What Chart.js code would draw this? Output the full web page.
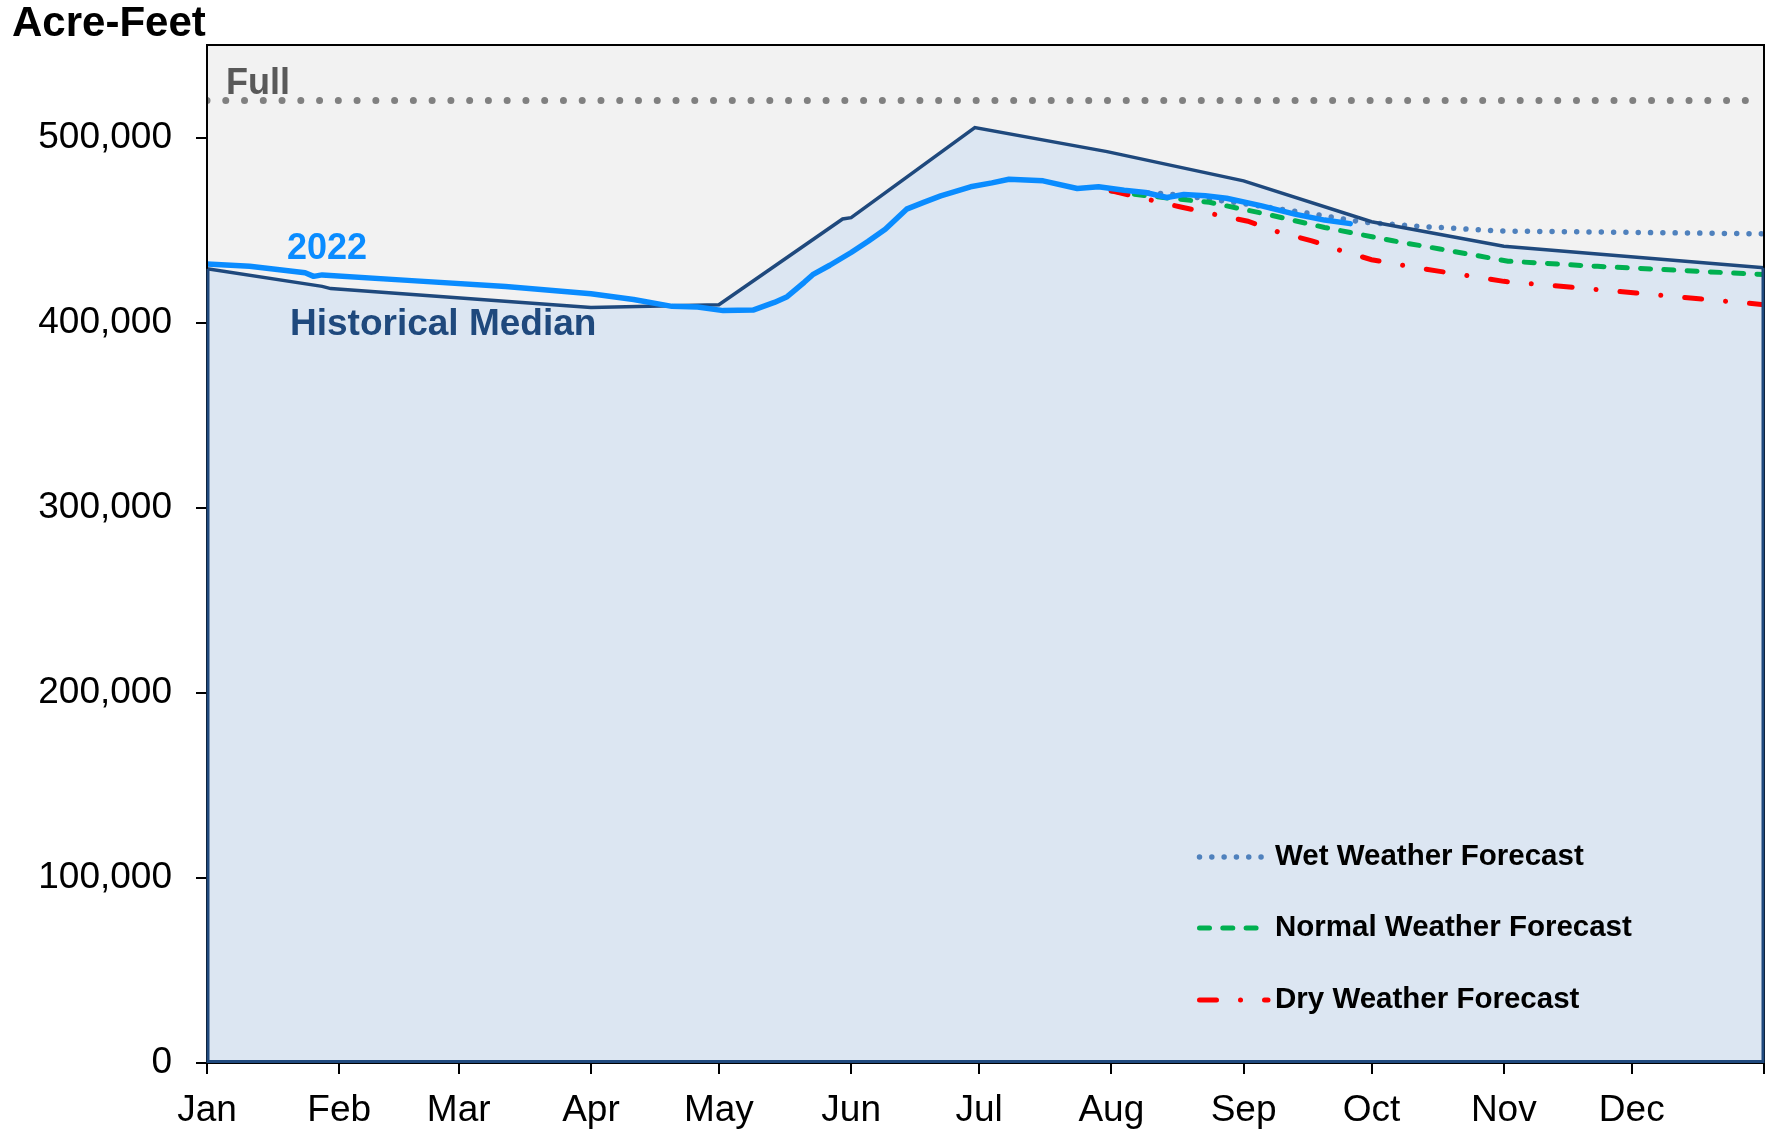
<!DOCTYPE html>
<html>
<head>
<meta charset="utf-8">
<title>Reservoir Storage</title>
<script src="https://cdn.jsdelivr.net/npm/chart.js@4.4.1/dist/chart.umd.min.js"></script>
<style>
    html, body { margin: 0; padding: 0; background: #fff; }
    #wrap { width: 1765px; height: 1135px; }
</style>
</head>
<body>
<div id="wrap"><canvas id="storage-chart" width="1765" height="1135"></canvas></div>
<script>
// x values are day of year (0 = Jan 1)
const monthDays = [0, 31, 59, 90, 120, 151, 181, 212, 243, 273, 304, 334, 365];
const monthNames = ['Jan', 'Feb', 'Mar', 'Apr', 'May', 'Jun', 'Jul', 'Aug', 'Sep', 'Oct', 'Nov', 'Dec', ''];
const yTicks = [0, 100000, 200000, 300000, 400000, 500000];
const fullLevel = 520000;

const medianDays = [0, 27, 29, 65, 90, 120, 149, 151, 180, 211, 243, 273, 304, 365];
const medianValues = [429100, 419600, 418400, 412400, 408200, 409700, 456000, 456700, 505400, 492400, 476600, 454500, 441300, 429700];

const year2022Days = [0, 10, 23, 25, 27, 48, 70, 90, 100, 109, 115, 121, 128, 133, 136, 140, 142, 146, 151, 155, 159, 162, 164, 168, 172, 179, 184, 188, 196, 204, 209, 215, 220, 225, 229, 234, 239, 247, 255, 262, 268];
const year2022Values = [431700, 430500, 427000, 425000, 425800, 422700, 419500, 415600, 412500, 408800, 408500, 406500, 406800, 410900, 414000, 421800, 425900, 431000, 437900, 444000, 450500, 457000, 461300, 465000, 468500, 473400, 475500, 477500, 476600, 472500, 473400, 471500, 470300, 467600, 469200, 468600, 467200, 463200, 458600, 455400, 453500];

const wetDays = [212, 226, 243, 257, 271, 283, 303, 365];
const wetValues = [471200, 469400, 464300, 459500, 454300, 452200, 449500, 448000];

const normalDays = [212, 217, 230, 235, 248, 262, 278, 289, 305, 326, 365];
const normalValues = [471200, 469400, 466200, 465000, 458800, 451400, 444200, 439800, 433200, 430400, 426000];

const dryDays = [212, 228, 236, 244, 251, 259, 266, 273, 281, 289, 304, 320, 335, 365];
const dryValues = [471200, 462600, 458600, 454800, 449100, 444200, 438800, 434000, 430700, 427700, 422300, 419100, 416000, 409700];

const toPoints = (days, values) => days.map((d, i) => ({ x: d, y: values[i] }));

const FONT = "'Liberation Sans', Arial, sans-serif";
const NAVY = '#1F497D';
const BLUE = '#0A8CFF';

const chartBackground = {
    id: 'chartBackground',
    beforeDraw(chart) {
        const { ctx, chartArea: a } = chart;
        ctx.save();
        ctx.fillStyle = '#F2F2F2';
        ctx.fillRect(a.left, a.top, a.right - a.left, a.bottom - a.top);
        ctx.restore();
    }
};

const labelsAndLegend = {
    id: 'labelsAndLegend',
    afterDatasetsDraw(chart) {
        const { ctx, chartArea: a, scales } = chart;
        const yBase = scales.y.getPixelForValue(medianValues[0]);
        const yEnd = scales.y.getPixelForValue(medianValues[medianValues.length - 1]);
        ctx.save();

        // frame of the plot, area outline in navy
        ctx.strokeStyle = '#000';
        ctx.lineWidth = 2;
        ctx.strokeRect(a.left, a.top, a.right - a.left, a.bottom - a.top);
        ctx.strokeStyle = NAVY;
        ctx.lineWidth = 3;
        ctx.beginPath();
        ctx.moveTo(a.left + 1, yBase);
        ctx.lineTo(a.left + 1, a.bottom - 1.5);
        ctx.lineTo(a.right - 1, a.bottom - 1.5);
        ctx.lineTo(a.right - 1, yEnd);
        ctx.stroke();

        // text labels on the plot
        ctx.textBaseline = 'middle';
        ctx.textAlign = 'left';
        ctx.font = 'bold 36px ' + FONT;
        ctx.fillStyle = '#595959';
        ctx.fillText('Full', 226, scales.y.getPixelForValue(fullLevel) - 16);
        ctx.fillStyle = BLUE;
        ctx.fillText('2022', 287, 249);
        ctx.font = 'bold 37px ' + FONT;
        ctx.fillStyle = NAVY;
        ctx.fillText('Historical Median', 290, 325);

        // legend for the forecasts
        const rows = [857, 928, 1000];
        ctx.font = 'bold 29.5px ' + FONT;
        chart.data.datasets.filter(ds => ds.inLegend).forEach((ds, i) => {
            const y = rows[i];
            ctx.save();
            ctx.strokeStyle = ds.borderColor;
            ctx.lineWidth = ds.borderWidth;
            ctx.lineCap = 'round';
            ctx.setLineDash(ds.borderDash);
            ctx.beginPath();
            ctx.moveTo(1199.5, y);
            ctx.lineTo(ds.label.startsWith('Dry') ? 1268 : 1262, y);
            ctx.stroke();
            ctx.restore();
            ctx.fillStyle = '#000';
            ctx.fillText(ds.label, 1275, y);
        });

        // axis title
        ctx.font = 'bold 42px ' + FONT;
        ctx.fillStyle = '#000';
        ctx.fillText('Acre-Feet', 12, 24);
        ctx.restore();
    }
};

document.addEventListener('DOMContentLoaded', () => {
    const ctx = document.getElementById('storage-chart').getContext('2d');

    new Chart(ctx, {
        type: 'line',
        data: {
            datasets: [
                {
                    label: '2022',
                    data: toPoints(year2022Days, year2022Values),
                    borderColor: BLUE,
                    borderWidth: 5.5,
                    borderCapStyle: 'round',
                    borderJoinStyle: 'round',
                    order: 0
                },
                {
                    label: 'Historical Median',
                    data: toPoints(medianDays, medianValues),
                    borderColor: NAVY,
                    borderWidth: 3.5,
                    backgroundColor: '#DCE6F2',
                    fill: 'origin',
                    order: 1
                },
                {
                    label: 'Wet Weather Forecast',
                    inLegend: true,
                    data: toPoints(wetDays, wetValues),
                    borderColor: '#4F81BD',
                    borderWidth: 5.5,
                    borderCapStyle: 'round',
                    borderDash: [0.01, 12.3],
                    order: 4
                },
                {
                    label: 'Normal Weather Forecast',
                    inLegend: true,
                    data: toPoints(normalDays, normalValues),
                    borderColor: '#00B050',
                    borderWidth: 5,
                    borderCapStyle: 'round',
                    borderDash: [10, 13.3],
                    order: 3
                },
                {
                    label: 'Dry Weather Forecast',
                    inLegend: true,
                    data: toPoints(dryDays, dryValues),
                    borderColor: '#FF0000',
                    borderWidth: 5,
                    borderCapStyle: 'round',
                    borderDash: [17, 24, 0.01, 24],
                    order: 2
                },
                {
                    label: 'Full',
                    data: [{ x: 0, y: fullLevel }, { x: 365, y: fullLevel }],
                    borderColor: '#808080',
                    borderWidth: 7,
                    borderCapStyle: 'round',
                    borderDash: [0.01, 18.75],
                    order: 5
                }
            ]
        },
        options: {
            responsive: false,
            devicePixelRatio: 1,
            animation: false,
            layout: { padding: { top: 45, right: 1, left: 0, bottom: 0 } },
            elements: {
                point: { radius: 0, hoverRadius: 0 },
                line: { tension: 0 }
            },
            plugins: {
                legend: { display: false },
                tooltip: { enabled: false },
                filler: { drawTime: 'beforeDatasetsDraw' }
            },
            scales: {
                x: {
                    type: 'linear',
                    min: 0,
                    max: 365,
                    afterBuildTicks: axis => { axis.ticks = monthDays.map(v => ({ value: v })); },
                    afterFit: axis => {
                        axis.height = 72;
                        axis.paddingLeft = 0;
                        axis.paddingRight = 0;
                    },
                    ticks: {
                        autoSkip: false,
                        maxRotation: 0,
                        padding: 15,
                        color: '#000',
                        font: { family: FONT, size: 37 },
                        callback: (value, index) => monthNames[index]
                    },
                    grid: { drawOnChartArea: false, tickLength: 11, color: '#000', lineWidth: 2 },
                    border: { color: '#000', width: 2 }
                },
                y: {
                    min: 0,
                    max: 550000,
                    afterBuildTicks: axis => { axis.ticks = yTicks.map(v => ({ value: v })); },
                    afterFit: axis => {
                        axis.width = 207;
                        axis.paddingTop = 0;
                        axis.paddingBottom = 0;
                    },
                    ticks: {
                        padding: 24,
                        color: '#000',
                        font: { family: FONT, size: 37 },
                        callback: value => value.toLocaleString('en-US')
                    },
                    grid: { drawOnChartArea: false, tickLength: 11, color: '#000', lineWidth: 2 },
                    border: { color: '#000', width: 2 }
                }
            }
        },
        plugins: [chartBackground, labelsAndLegend]
    });
});
</script>
</body>
</html>
